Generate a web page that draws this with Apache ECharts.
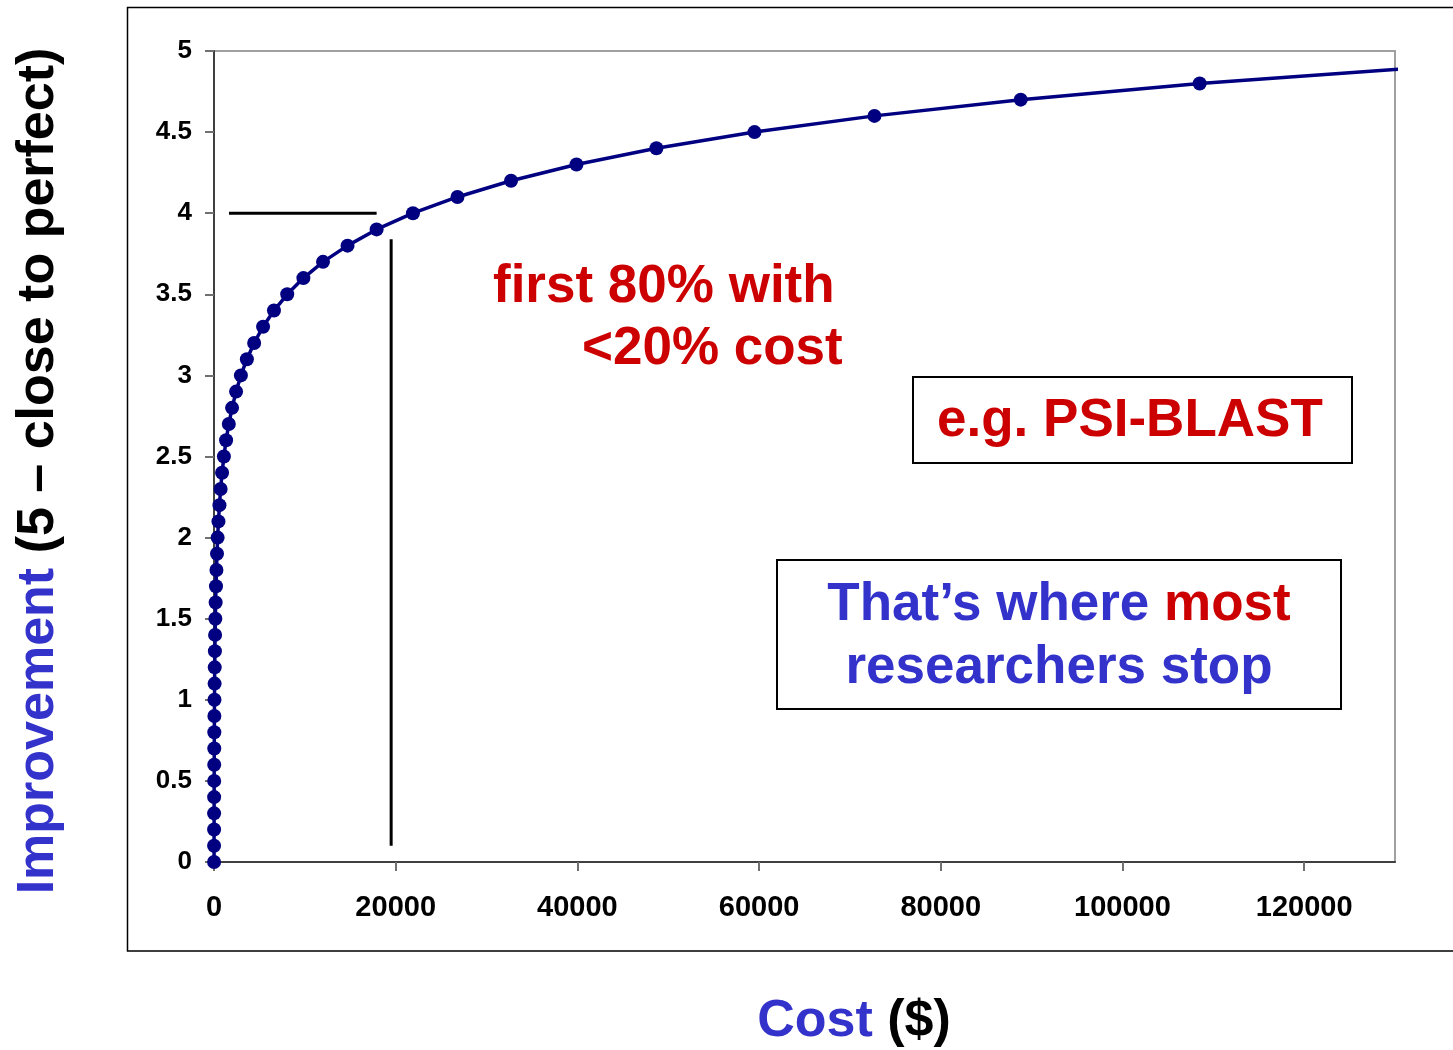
<!DOCTYPE html>
<html>
<head>
<meta charset="utf-8">
<title>Improvement vs Cost</title>
<script src="https://cdn.jsdelivr.net/npm/echarts@6/dist/echarts.min.js"></script>
<style>
  html, body { margin: 0; padding: 0; background: #ffffff; }
  #chart { width: 1453px; height: 1050px; }
</style>
</head>
<body>
<div id="chart"></div>
<script>
// Improvement score (0.1 steps) and the cost needed to reach it
const improvement = [
  0, 0.1, 0.2, 0.3, 0.4, 0.5, 0.6, 0.7, 0.8, 0.9,
  1.0, 1.1, 1.2, 1.3, 1.4, 1.5, 1.6, 1.7, 1.8, 1.9,
  2.0, 2.1, 2.2, 2.3, 2.4, 2.5, 2.6, 2.7, 2.8, 2.9,
  3.0, 3.1, 3.2, 3.3, 3.4, 3.5, 3.6, 3.7, 3.8, 3.9,
  4.0, 4.1, 4.2, 4.3, 4.4, 4.5, 4.6, 4.7, 4.8
];
const cost = [
  7, 9, 11, 13, 16, 20, 24, 30, 36, 44,
  54, 66, 80, 100, 120, 150, 180, 220, 270, 330,
  400, 490, 600, 730, 890, 1090, 1330, 1630, 1990, 2430,
  2960, 3620, 4420, 5400, 6600, 8060, 9840, 12000, 14700, 17900,
  21900, 26800, 32700, 39900, 48700, 59500, 72700, 88800, 108500
];
// curve continues a little past the last marked point
const curveTail = [131100, 4.89];

// guide lines: 80% level and the 20% cost mark
const levelLine = [[1650, 4.0], [17900, 4.0]];
const costLine = [[19500, 3.84], [19500, 0.1]];

const xTickValues = [0, 20000, 40000, 60000, 80000, 100000, 120000];

const FONT = 'Arial, "Liberation Sans", sans-serif';
const BLUE = '#3333CC';
const RED = '#CC0000';
const NAVY = '#000080';

const curveData = improvement.map((y, i) => [cost[i], y]);
curveData.push({ value: curveTail, symbol: 'none' });

const chart = echarts.init(document.getElementById('chart'), null, { renderer: 'canvas' });

chart.setOption({
  animation: false,
  backgroundColor: '#ffffff',
  grid: {
    left: 214, top: 51, width: 1181, height: 811,
    show: true, borderColor: '#a0a0a0', borderWidth: 2, backgroundColor: 'transparent'
  },
  xAxis: {
    type: 'value', min: 0, max: 130000, interval: 20000,
    axisLine: { show: true, onZero: false, lineStyle: { color: '#404040', width: 2 } },
    axisTick: { show: true, length: 9, customValues: xTickValues, lineStyle: { color: '#707070', width: 2 } },
    axisLabel: {
      customValues: xTickValues, margin: 31,
      formatter: v => String(v),
      fontFamily: FONT, fontWeight: 'bold', fontSize: 29, color: '#000'
    },
    splitLine: { show: false }
  },
  yAxis: {
    type: 'value', min: 0, max: 5, interval: 0.5,
    axisLine: { show: true, onZero: false, lineStyle: { color: '#404040', width: 2 } },
    axisTick: { show: true, length: 9, lineStyle: { color: '#707070', width: 2 } },
    axisLabel: { margin: 22, fontFamily: FONT, fontWeight: 'bold', fontSize: 26, color: '#000' },
    splitLine: { show: false }
  },
  series: [
    {
      type: 'line', data: levelLine, symbol: 'none', silent: true,
      lineStyle: { color: '#000', width: 3 }, z: 3
    },
    {
      type: 'line', data: costLine, symbol: 'none', silent: true,
      lineStyle: { color: '#000', width: 3 }, z: 3
    },
    {
      type: 'line', data: curveData, clip: false,
      symbol: 'circle', symbolSize: 14, showAllSymbol: true,
      itemStyle: { color: NAVY },
      lineStyle: { color: NAVY, width: 3.5 }, z: 4
    }
  ],
  graphic: [
    // outer chart frame
    {
      type: 'rect', shape: { x: 127.5, y: 7.5, width: 1400, height: 943.5 },
      style: { fill: 'none', stroke: '#000', lineWidth: 1.5 }, z: -1, silent: true
    },
    // y axis title
    {
      type: 'text', x: 39, y: 471, rotation: Math.PI / 2,
      style: {
        text: '{b|Improvement }{k|(5 – close to perfect)}',
        align: 'center', verticalAlign: 'middle',
        rich: {
          b: { fontFamily: FONT, fontWeight: 'bold', fontSize: 52, fill: BLUE },
          k: { fontFamily: FONT, fontWeight: 'bold', fontSize: 52, fill: '#000' }
        }
      }
    },
    // x axis title
    {
      type: 'text', x: 854, y: 1022,
      style: {
        text: '{b|Cost }{k|($)}',
        align: 'center', verticalAlign: 'middle',
        rich: {
          b: { fontFamily: FONT, fontWeight: 'bold', fontSize: 52, fill: BLUE },
          k: { fontFamily: FONT, fontWeight: 'bold', fontSize: 52, fill: '#000' }
        }
      }
    },
    // note next to the knee of the curve
    {
      type: 'text', x: 493, y: 287,
      style: { text: 'first 80% with', fontFamily: FONT, fontWeight: 'bold', fontSize: 53, fill: RED, align: 'left', verticalAlign: 'middle' }
    },
    {
      type: 'text', x: 582, y: 349,
      style: { text: '<20% cost', fontFamily: FONT, fontWeight: 'bold', fontSize: 53, fill: RED, align: 'left', verticalAlign: 'middle' }
    },
    // example box
    {
      type: 'rect', shape: { x: 913, y: 377, width: 439, height: 86 },
      style: { fill: '#fff', stroke: '#000', lineWidth: 2 }
    },
    {
      type: 'text', x: 937, y: 421,
      style: { text: 'e.g. PSI-BLAST', fontFamily: FONT, fontWeight: 'bold', fontSize: 53, fill: RED, align: 'left', verticalAlign: 'middle' }
    },
    // remark box
    {
      type: 'rect', shape: { x: 777, y: 560, width: 564, height: 149 },
      style: { fill: '#fff', stroke: '#000', lineWidth: 2 }
    },
    {
      type: 'text', x: 1059, y: 605,
      style: {
        text: '{b|That’s where }{r|most}',
        align: 'center', verticalAlign: 'middle',
        rich: {
          b: { fontFamily: FONT, fontWeight: 'bold', fontSize: 53, fill: BLUE },
          r: { fontFamily: FONT, fontWeight: 'bold', fontSize: 53, fill: RED }
        }
      }
    },
    {
      type: 'text', x: 1059, y: 668,
      style: { text: 'researchers stop', fontFamily: FONT, fontWeight: 'bold', fontSize: 53, fill: BLUE, align: 'center', verticalAlign: 'middle' }
    }
  ]
});
</script>
</body>
</html>
